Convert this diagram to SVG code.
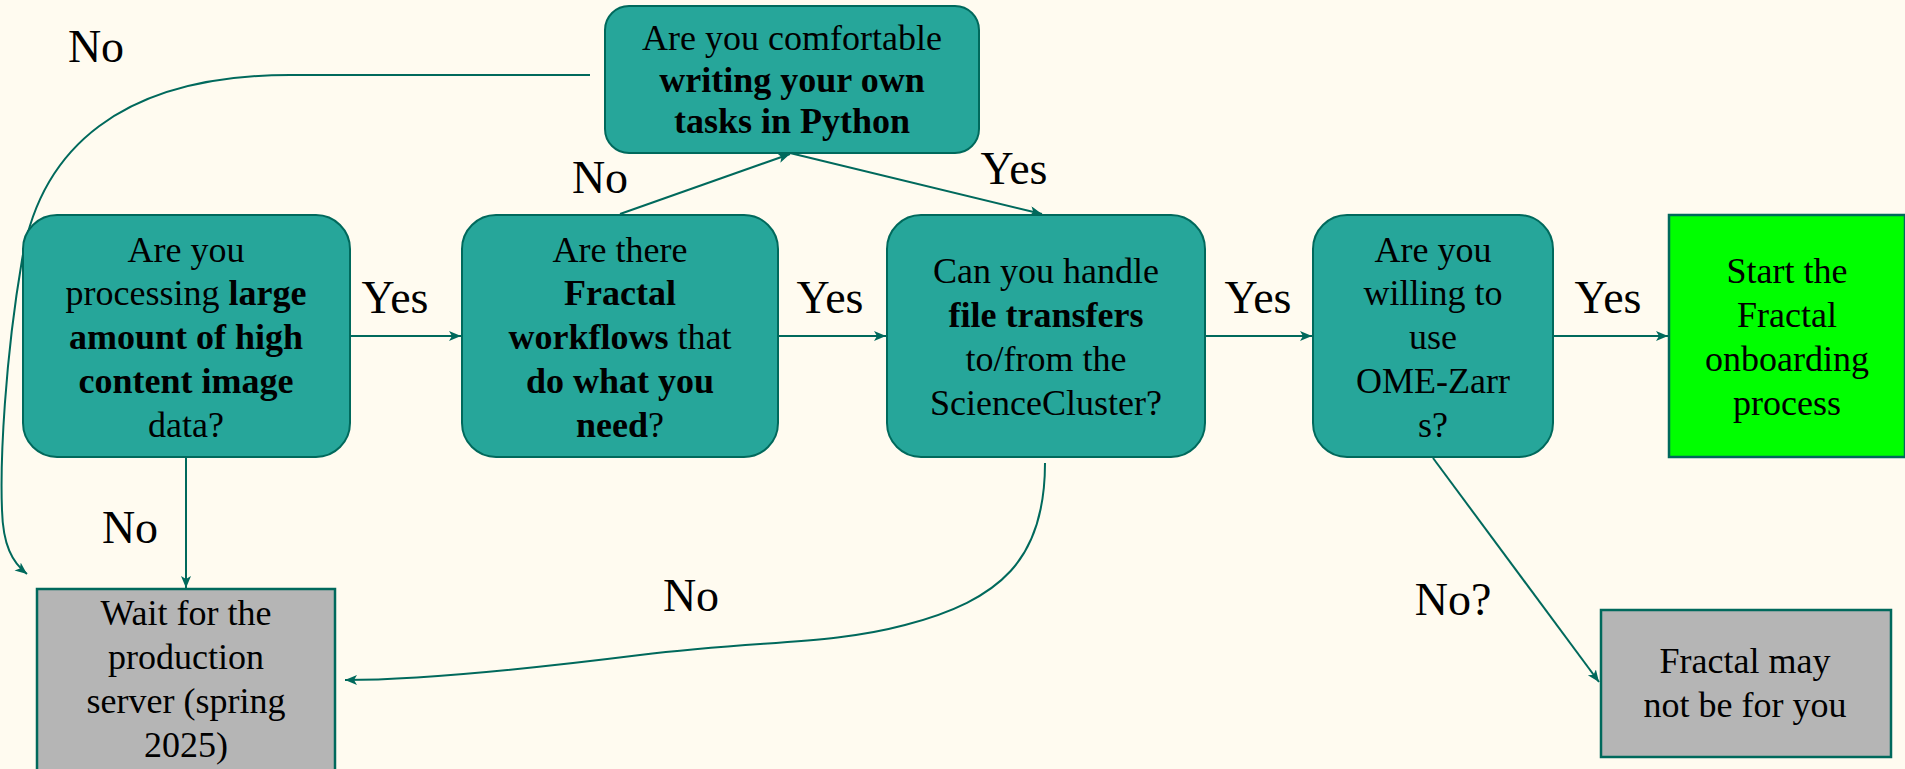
<svg xmlns="http://www.w3.org/2000/svg" width="1905" height="769" viewBox="0 0 1905 769" font-family="Liberation Serif">
  <style>
    .q { fill: #26a69a; stroke: #00695c; stroke-width: 2; }
    .end { fill: #b5b5b5; stroke: #00695c; stroke-width: 2.5; }
    .go { fill: #00ff00; stroke: #00695c; stroke-width: 2.5; }
    .t { font-size: 36px; fill: #000; text-anchor: middle; }
    .b { font-weight: bold; }
    .lbl { font-size: 46px; fill: #000; text-anchor: middle; }
    .edge { fill: none; stroke: #00695c; stroke-width: 2; }
  </style>
  <defs>
    <marker id="arrow" markerUnits="userSpaceOnUse" markerWidth="14" markerHeight="12" refX="12" refY="5" orient="auto">
      <path d="M0,0 L12,5 L0,10 L3,5 z" fill="#00695c"/>
    </marker>
  </defs>

  <rect x="0" y="0" width="1905" height="769" fill="#fffbf0"/>

  <g id="connectors">
    <!-- large data? -> Fractal workflows? -->
    <line class="edge" x1="350" y1="336" x2="461" y2="336" marker-end="url(#arrow)"/>
    <!-- workflows? -> file transfers? -->
    <line class="edge" x1="778" y1="336" x2="886" y2="336" marker-end="url(#arrow)"/>
    <!-- file transfers? -> OME-Zarr? -->
    <line class="edge" x1="1205" y1="336" x2="1312" y2="336" marker-end="url(#arrow)"/>
    <!-- OME-Zarr? -> onboarding -->
    <line class="edge" x1="1553" y1="336" x2="1668" y2="336" marker-end="url(#arrow)"/>
    <!-- large data? no -> wait -->
    <line class="edge" x1="186" y1="457" x2="186" y2="588" marker-end="url(#arrow)"/>
    <!-- workflows? no -> python tasks? -->
    <line class="edge" x1="620" y1="214" x2="790" y2="154" marker-end="url(#arrow)"/>
    <!-- python tasks? yes -> file transfers? -->
    <line class="edge" x1="790" y1="153" x2="1042" y2="214" marker-end="url(#arrow)"/>
    <!-- python tasks? no -> wait -->
    <path class="edge" d="M590 75 H290 C120 75 40 150 22 260 C5 360 0 460 2 510 C3 545 12 562 27 574" marker-end="url(#arrow)"/>
    <!-- file transfers? no -> wait -->
    <path class="edge" d="M1045 463 C1045 560 1000 600 905 625 C830 645 760 640 640 655 C520 670 420 680 345 680" marker-end="url(#arrow)"/>
    <!-- OME-Zarr? no -> not for you -->
    <line class="edge" x1="1433" y1="458" x2="1599" y2="682" marker-end="url(#arrow)"/>

    <text class="lbl" x="395" y="313">Yes</text>
    <text class="lbl" x="830" y="313">Yes</text>
    <text class="lbl" x="1258" y="313">Yes</text>
    <text class="lbl" x="1608" y="313">Yes</text>
    <text class="lbl" x="1014" y="184">Yes</text>
    <text class="lbl" x="600" y="193">No</text>
    <text class="lbl" x="96" y="62">No</text>
    <text class="lbl" x="130" y="543">No</text>
    <text class="lbl" x="691" y="611">No</text>
    <text class="lbl" x="1453" y="615">No?</text>
  </g>

  <g id="node-python">
    <rect class="q" x="605" y="6" width="374" height="147" rx="24"/>
    <text class="t" x="792" y="50">Are you comfortable</text>
    <text class="t b" x="792" y="92">writing your own</text>
    <text class="t b" x="792" y="133">tasks in Python</text>
  </g>

  <g id="node-data">
    <rect class="q" x="23" y="215" width="327" height="242" rx="34"/>
    <text class="t" x="186" y="262">Are you</text>
    <text class="t" x="186" y="305">processing <tspan class="b">large</tspan></text>
    <text class="t b" x="186" y="349">amount of high</text>
    <text class="t b" x="186" y="393">content image</text>
    <text class="t" x="186" y="437">data?</text>
  </g>

  <g id="node-workflows">
    <rect class="q" x="462" y="215" width="316" height="242" rx="34"/>
    <text class="t" x="620" y="262">Are there</text>
    <text class="t b" x="620" y="305">Fractal</text>
    <text class="t" x="620" y="349"><tspan class="b">workflows</tspan> that</text>
    <text class="t b" x="620" y="393">do what you</text>
    <text class="t" x="620" y="437"><tspan class="b">need</tspan>?</text>
  </g>

  <g id="node-transfers">
    <rect class="q" x="887" y="215" width="318" height="242" rx="34"/>
    <text class="t" x="1046" y="283">Can you handle</text>
    <text class="t b" x="1046" y="327">file transfers</text>
    <text class="t" x="1046" y="371">to/from the</text>
    <text class="t" x="1046" y="415">ScienceCluster?</text>
  </g>

  <g id="node-zarr">
    <rect class="q" x="1313" y="215" width="240" height="242" rx="34"/>
    <text class="t" x="1433" y="262">Are you</text>
    <text class="t" x="1433" y="305">willing to</text>
    <text class="t" x="1433" y="349">use</text>
    <text class="t" x="1433" y="393">OME-Zarr</text>
    <text class="t" x="1433" y="437">s?</text>
  </g>

  <g id="node-onboarding">
    <rect class="go" x="1669" y="215" width="236" height="242"/>
    <text class="t" x="1787" y="283">Start the</text>
    <text class="t" x="1787" y="327">Fractal</text>
    <text class="t" x="1787" y="371">onboarding</text>
    <text class="t" x="1787" y="415">process</text>
  </g>

  <g id="node-wait">
    <rect class="end" x="37" y="589" width="298" height="200"/>
    <text class="t" x="186" y="625">Wait for the</text>
    <text class="t" x="186" y="669">production</text>
    <text class="t" x="186" y="713">server (spring</text>
    <text class="t" x="186" y="757">2025)</text>
  </g>

  <g id="node-notforyou">
    <rect class="end" x="1601" y="610" width="290" height="147"/>
    <text class="t" x="1745" y="673">Fractal may</text>
    <text class="t" x="1745" y="717">not be for you</text>
  </g>
</svg>
